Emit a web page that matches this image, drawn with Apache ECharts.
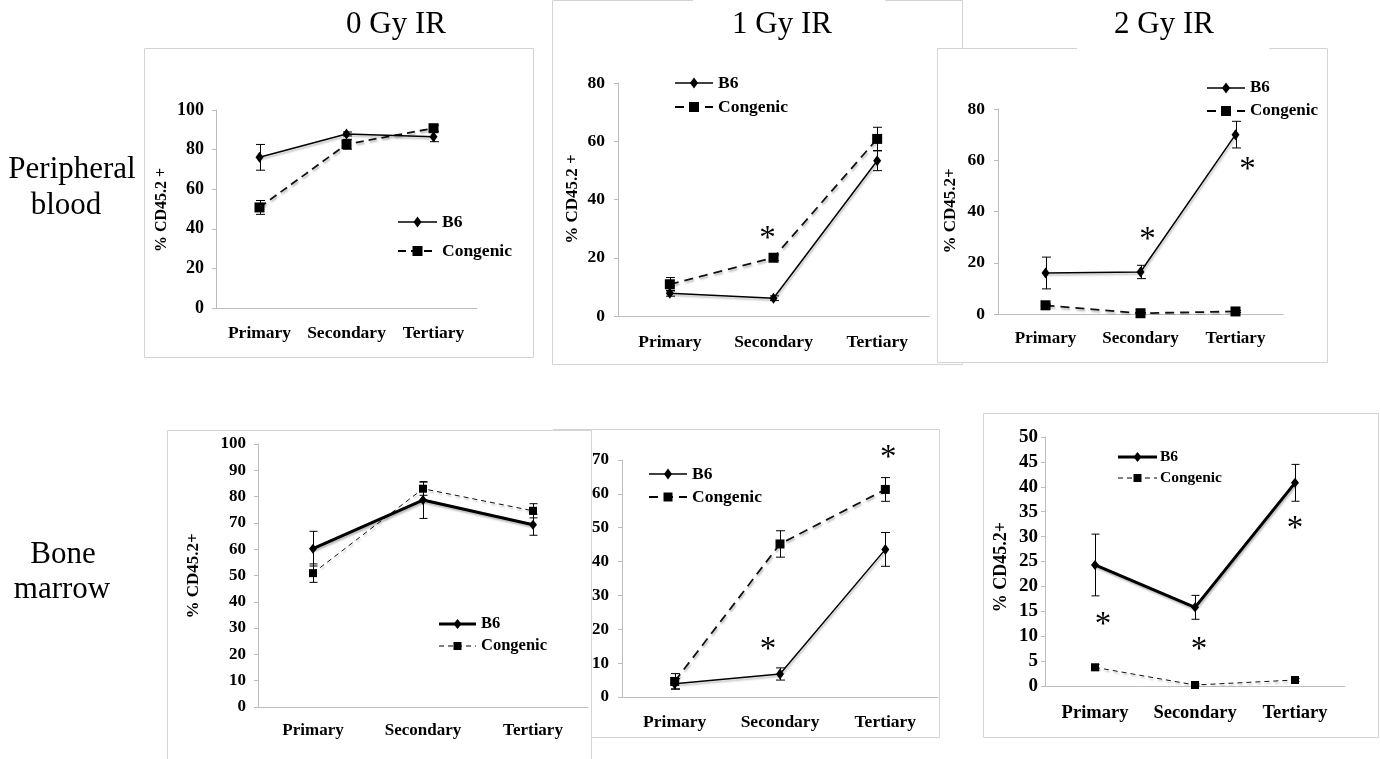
<!DOCTYPE html>
<html>
<head>
<meta charset="utf-8">
<title>% CD45.2+ chimerism after serial transplantation</title>
<script src="https://cdn.jsdelivr.net/npm/echarts@6/dist/echarts.min.js"></script>
<style>
  html, body { margin: 0; padding: 0; background: #fff; }
  #chart { width: 1380px; height: 759px; }
</style>
</head>
<body>
<div id="chart"></div>
<script>
// ---- data -------------------------------------------------------------
const categories = ['Primary', 'Secondary', 'Tertiary'];

// Peripheral blood, 0 / 1 / 2 Gy IR  (mean and error, % CD45.2+)
const pb0B6 = [76.1, 87.9, 86.5];
const pb0B6Err = [6.5, 1.0, 2.5];
const pb0Con = [50.8, 82.7, 90.8];
const pb0ConErr = [3.5, 2.5, 1.5];

const pb1B6 = [7.8, 6.1, 53.3];
const pb1B6Err = [1.0, 0.8, 3.4];
const pb1Con = [10.9, 20.0, 60.8];
const pb1ConErr = [2.3, 1.0, 4.0];

const pb2B6 = [16.0, 16.4, 70.0];
const pb2B6Err = [6.2, 2.6, 5.2];
const pb2Con = [3.4, 0.3, 1.0];
const pb2ConErr = [0.5, 0.3, 0.4];

// Bone marrow, 0 / 1 / 2 Gy IR
const bm0B6 = [60.2, 78.7, 69.3];
const bm0B6Err = [6.6, 7.0, 4.0];
const bm0Con = [50.9, 83.0, 74.6];
const bm0ConErr = [3.5, 2.5, 2.7];

const bm1B6 = [3.9, 6.8, 43.6];
const bm1B6Err = [1.5, 1.8, 5.0];
const bm1Con = [4.6, 45.2, 61.3];
const bm1ConErr = [2.3, 3.9, 3.5];

const bm2B6 = [24.3, 15.8, 40.8];
const bm2B6Err = [6.2, 2.4, 3.7];
const bm2Con = [3.75, 0.2, 1.2];
const bm2ConErr = [0.6, 0.2, 0.3];

// significance markers: [category index, height on the value axis]
const pb1Stars = [[1, 27.9]];
const pb2Stars = [[1, 30.6], [2, 57.9]];
const bm1Stars = [[1, 15.3], [2, 72.1]];
const bm2Stars = [[0, 13.2], [1, 8.2], [2, 32.5]];

const columnTitles = ['0 Gy IR', '1 Gy IR', '2 Gy IR'];
const rowTitles = [['Peripheral', 'blood'], ['Bone', 'marrow']];
const seriesNames = ['B6', 'Congenic'];

// ---- layout / style per panel -----------------------------------------
const FONT = "'Liberation Serif', 'Times New Roman', serif";
const AXIS_GREY = '#bdbdbd';
const FRAME_GREY = '#d3d3d3';

const panels = [
  { grid: { left: 216, top: 110, width: 261, height: 198 }, max: 100, interval: 20,
    tickFont: 18, tickMargin: 12, catFont: 17.5, catMargin: 16,
    yName: '% CD45.2 +', yNameAt: [162, 210], yNameFont: 16,
    b6: pb0B6, b6Err: pb0B6Err, con: pb0Con, conErr: pb0ConErr,
    b6Width: 1.5, conWidth: 1.8, conDash: [8, 5], diamond: [8, 11], square: 10, cap: 9,
    legend: { x1: 398, x2: 437, yB6: 222, yCon: 251, tx: 442, font: 17.5 },
    stars: [], starDx: [] },
  { grid: { left: 618, top: 83, width: 311, height: 233 }, max: 80, interval: 20,
    tickFont: 17.5, tickMargin: 13, catFont: 17.5, catMargin: 17,
    yName: '% CD45.2 +', yNameAt: [573, 199], yNameFont: 17,
    b6: pb1B6, b6Err: pb1B6Err, con: pb1Con, conErr: pb1ConErr,
    b6Width: 1.5, conWidth: 1.8, conDash: [9, 6], diamond: [8, 11], square: 10, cap: 9,
    legend: { x1: 675, x2: 713, yB6: 83, yCon: 107, tx: 718, font: 17.5 },
    stars: pb1Stars, starDx: [-6] },
  { grid: { left: 998, top: 109, width: 285, height: 205 }, max: 80, interval: 20,
    tickFont: 17.5, tickMargin: 13, catFont: 17, catMargin: 16,
    yName: '% CD45.2+', yNameAt: [951, 211], yNameFont: 17,
    b6: pb2B6, b6Err: pb2B6Err, con: pb2Con, conErr: pb2ConErr,
    b6Width: 1.5, conWidth: 1.8, conDash: [9, 6], diamond: [8, 11], square: 10, cap: 9,
    legend: { x1: 1207, x2: 1245, yB6: 88, yCon: 111, tx: 1250, font: 17 },
    stars: pb2Stars, starDx: [7, 12] },
  { grid: { left: 258, top: 444, width: 330, height: 263 }, max: 100, interval: 10,
    tickFont: 17, tickMargin: 12, catFont: 17, catMargin: 15,
    yName: '% CD45.2+', yNameAt: [194, 576], yNameFont: 17,
    b6: bm0B6, b6Err: bm0B6Err, con: bm0Con, conErr: bm0ConErr,
    b6Width: 3, conWidth: 1, conDash: [5, 4], diamond: [8, 10], square: 8, cap: 8,
    legend: { x1: 439, x2: 476, yB6: 624, yCon: 646, tx: 481, font: 16.5 },
    stars: [], starDx: [] },
  { grid: { left: 622, top: 460, width: 316, height: 237 }, max: 70, interval: 10,
    tickFont: 17, tickMargin: 13, catFont: 17.5, catMargin: 16,
    yName: '', yNameAt: [0, 0], yNameFont: 17,
    b6: bm1B6, b6Err: bm1B6Err, con: bm1Con, conErr: bm1ConErr,
    b6Width: 1.5, conWidth: 1.8, conDash: [9, 6], diamond: [8, 11], square: 9, cap: 9,
    legend: { x1: 649, x2: 687, yB6: 474, yCon: 497, tx: 692, font: 17.5 },
    stars: bm1Stars, starDx: [-12, 3] },
  { grid: { left: 1045, top: 437, width: 300, height: 249 }, max: 50, interval: 5,
    tickFont: 19, tickMargin: 7, catFont: 18.5, catMargin: 18,
    yName: '% CD45.2+', yNameAt: [1001, 567], yNameFont: 18,
    b6: bm2B6, b6Err: bm2B6Err, con: bm2Con, conErr: bm2ConErr,
    b6Width: 3, conWidth: 1, conDash: [5, 4], diamond: [8, 10], square: 8, cap: 8,
    legend: { x1: 1118, x2: 1157, yB6: 457, yCon: 478, tx: 1160, font: 15.5 },
    stars: bm2Stars, starDx: [8, 4, 0] }
];

// panel frames, in drawing order (later ones overlap earlier ones)
const frames = [
  { x: 144, y: 48, w: 389, h: 309 },
  { x: 552, y: 0, w: 410, h: 364, gap: [693, 885] },
  { x: 937, y: 48, w: 390, h: 314, gap: [1077, 1269] },
  { x: 553, y: 429, w: 386, h: 308 },
  { x: 167, y: 430, w: 424, h: 340 },
  { x: 983, y: 413, w: 395, h: 324 }
];

// ---- build the option -------------------------------------------------
const grids = [], xAxes = [], yAxes = [], series = [], graphics = [];
const shadow = { shadowColor: 'rgba(0,0,0,0.28)', shadowBlur: 2, shadowOffsetX: 1, shadowOffsetY: 2 };

frames.forEach((f) => {
  graphics.push({
    type: 'rect', z: 0,
    shape: { x: f.x + 0.5, y: f.y + 0.5, width: f.w, height: f.h },
    style: { fill: '#fff', stroke: FRAME_GREY, lineWidth: 1 }
  });
  if (f.gap) {
    graphics.push({
      type: 'rect', z: 0,
      shape: { x: f.gap[0], y: f.y - 2, width: f.gap[1] - f.gap[0], height: 5 },
      style: { fill: '#fff' }
    });
  }
});

function errorBars(idx, vals, errs, cap) {
  return {
    type: 'custom', xAxisIndex: idx, yAxisIndex: idx, z: 4, silent: true,
    data: vals.map((v, k) => [k, v, errs[k]]),
    renderItem(params, api) {
      const k = api.value(0), v = api.value(1), e = api.value(2);
      const hi = api.coord([k, v + e]);
      const lo = api.coord([k, Math.max(0, v - e)]);
      const s = { stroke: '#000', lineWidth: 1 };
      const x = Math.round(hi[0]) + 0.5;
      return {
        type: 'group',
        children: [
          { type: 'line', shape: { x1: x, y1: hi[1], x2: x, y2: lo[1] }, style: s },
          { type: 'line', shape: { x1: x - cap / 2, y1: hi[1], x2: x + cap / 2, y2: hi[1] }, style: s },
          { type: 'line', shape: { x1: x - cap / 2, y1: lo[1], x2: x + cap / 2, y2: lo[1] }, style: s }
        ]
      };
    }
  };
}

panels.forEach((p, i) => {
  grids.push(Object.assign({ outerBoundsMode: 'none', containLabel: false }, p.grid));
  xAxes.push({
    type: 'category', gridIndex: i, data: categories, boundaryGap: true,
    axisLine: { lineStyle: { color: AXIS_GREY, width: 1 } },
    axisTick: { show: false },
    axisLabel: { color: '#000', fontFamily: FONT, fontWeight: 'bold', fontSize: p.catFont, margin: p.catMargin, interval: 0 },
    splitLine: { show: false }
  });
  yAxes.push({
    type: 'value', gridIndex: i, min: 0, max: p.max, interval: p.interval,
    axisLine: { show: true, lineStyle: { color: AXIS_GREY, width: 1 } },
    axisTick: { show: true, length: 4, lineStyle: { color: AXIS_GREY } },
    axisLabel: { color: '#000', fontFamily: FONT, fontWeight: 'bold', fontSize: p.tickFont, margin: p.tickMargin },
    splitLine: { show: false }
  });

  series.push({
    name: seriesNames[1], type: 'line', xAxisIndex: i, yAxisIndex: i, z: 3,
    data: p.con, symbol: 'rect', symbolSize: p.square, showSymbol: true,
    itemStyle: { color: '#000' },
    lineStyle: Object.assign({ color: '#111', width: p.conWidth, type: p.conDash }, shadow),
    animation: false
  });
  series.push({
    name: seriesNames[0], type: 'line', xAxisIndex: i, yAxisIndex: i, z: 3,
    data: p.b6, symbol: 'diamond', symbolSize: p.diamond, showSymbol: true,
    itemStyle: { color: '#000' },
    lineStyle: Object.assign({ color: '#000', width: p.b6Width, type: 'solid' }, shadow),
    animation: false
  });
  series.push(errorBars(i, p.b6, p.b6Err, p.cap));
  series.push(errorBars(i, p.con, p.conErr, p.cap));

  if (p.stars.length) {
    series.push({
      type: 'scatter', xAxisIndex: i, yAxisIndex: i, z: 5, silent: true,
      symbolSize: 1, clip: false,
      itemStyle: { color: 'rgba(0,0,0,0)', opacity: 1 },
      data: p.stars.map((s, k) => ({
        value: s,
        label: { offset: [p.starDx[k], 5] }
      })),
      label: {
        show: true, position: 'inside', formatter: '*', opacity: 1,
        color: '#000', textBorderWidth: 0, fontFamily: FONT, fontSize: 33, fontWeight: 'normal'
      },
      emphasis: { disabled: true },
      animation: false
    });
  }

  // y-axis title
  if (p.yName) {
    graphics.push({
      type: 'text', z: 10, x: p.yNameAt[0], y: p.yNameAt[1], rotation: Math.PI / 2,
      style: { text: p.yName, fill: '#000', font: 'bold ' + p.yNameFont + 'px ' + FONT, align: 'center', verticalAlign: 'middle' }
    });
  }

  // legend: line sample with its marker, then the series name
  const L = p.legend;
  const mid = (L.x1 + L.x2) / 2;
  const rows = [
    { y: L.yB6, w: p.b6Width, dash: null, sym: 'diamond', name: seriesNames[0] },
    { y: L.yCon, w: p.conWidth, dash: p.conDash, sym: 'rect', name: seriesNames[1] }
  ];
  rows.forEach(r => {
    graphics.push({
      type: 'line', z: 10,
      shape: { x1: L.x1, y1: r.y, x2: L.x2, y2: r.y },
      style: { stroke: '#000', lineWidth: r.w, lineDash: r.dash }
    });
    if (r.sym === 'diamond') {
      const dw = p.diamond[0] / 2, dh = p.diamond[1] / 2;
      graphics.push({
        type: 'polygon', z: 11,
        shape: { points: [[mid, r.y - dh], [mid + dw, r.y], [mid, r.y + dh], [mid - dw, r.y]] },
        style: { fill: '#000' }
      });
    } else {
      const s = p.square;
      graphics.push({
        type: 'rect', z: 11,
        shape: { x: mid - s / 2, y: r.y - s / 2, width: s, height: s },
        style: { fill: '#000' }
      });
    }
    graphics.push({
      type: 'text', z: 11, x: L.tx, y: r.y,
      style: { text: r.name, fill: '#000', font: 'bold ' + L.font + 'px ' + FONT, align: 'left', verticalAlign: 'middle' }
    });
  });
});

// column and row headings
const titleX = [396, 782, 1164];
columnTitles.forEach((t, k) => {
  graphics.push({
    type: 'text', z: 12, x: titleX[k], y: 25,
    style: { text: t, fill: '#000', font: '31px ' + FONT, align: 'center', verticalAlign: 'middle' }
  });
});
const rowAt = [[[72, 170], [66, 206]], [[63, 555], [62, 590]]];
rowTitles.forEach((lines, r) => {
  lines.forEach((t, k) => {
    graphics.push({
      type: 'text', z: 12, x: rowAt[r][k][0], y: rowAt[r][k][1],
      style: { text: t, fill: '#000', font: '31px ' + FONT, align: 'center', verticalAlign: 'middle' }
    });
  });
});

const chart = echarts.init(document.getElementById('chart'), null, { renderer: 'canvas' });
chart.setOption({
  backgroundColor: '#fff',
  animation: false,
  grid: grids,
  xAxis: xAxes,
  yAxis: yAxes,
  series: series,
  graphic: { elements: graphics }
});
</script>
</body>
</html>
